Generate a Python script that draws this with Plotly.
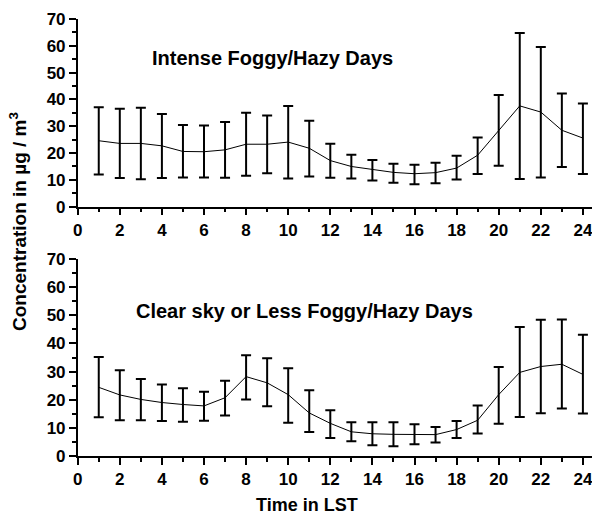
import plotly.graph_objects as go

hours = list(range(1, 25))

# Intense Foggy/Hazy Days
top_mean = [24.6, 23.6, 23.6, 22.7, 20.6, 20.5, 21.2, 23.3, 23.3, 24.1, 21.8, 17.2,
            15.0, 13.8, 12.8, 12.3, 12.7, 14.4, 19.2, 28.4, 37.6, 35.3, 28.5, 25.6]
top_upper = [37.1, 36.5, 36.9, 34.6, 30.5, 30.3, 31.6, 35.0, 34.0, 37.6, 32.1, 23.5,
             19.4, 17.4, 16.0, 15.6, 16.4, 19.0, 25.8, 41.7, 64.8, 59.6, 42.2, 38.5]
top_lower = [12.0, 10.7, 10.2, 10.7, 10.9, 10.9, 10.8, 11.5, 12.5, 10.5, 11.3, 10.8,
             10.5, 9.8, 8.9, 8.4, 8.7, 10.1, 12.2, 15.3, 10.3, 10.9, 14.8, 12.2]

# Clear sky or Less Foggy/Hazy Days
bot_mean = [24.4, 21.7, 20.1, 19.0, 18.3, 17.8, 20.7, 28.2, 26.0, 21.8, 15.3, 11.6,
            8.6, 7.9, 7.7, 7.7, 7.6, 9.4, 12.7, 21.8, 29.7, 31.8, 32.6, 29.0]
bot_upper = [35.2, 30.5, 27.4, 25.4, 24.1, 22.8, 26.7, 35.8, 34.7, 31.2, 23.4, 16.3,
             12.0, 12.0, 12.0, 11.3, 10.3, 12.4, 17.9, 31.6, 45.8, 48.4, 48.5, 43.1]
bot_lower = [13.8, 12.7, 12.7, 12.4, 12.2, 12.5, 14.4, 20.1, 17.7, 11.8, 8.5, 6.4,
             5.2, 3.8, 3.5, 4.2, 4.8, 6.4, 8.0, 11.5, 13.9, 15.2, 16.9, 15.1]

x_tick_vals = list(range(0, 25, 2))
y_tick_vals = list(range(0, 71, 10))

FONT = "Liberation Sans, Arial, sans-serif"
OFF = 8                      # page body margin
W, H = 600 - OFF, 516 - OFF  # figure size so the page fits the window


def px(x):
    return (x - OFF) / W


def py(y):
    return 1 - (y - OFF) / H


def err(mean, up, lo):
    return dict(type="data", symmetric=False,
                array=[u - m for u, m in zip(up, mean)],
                arrayminus=[m - l for m, l in zip(mean, lo)],
                color="black", thickness=2, width=5)


fig = go.Figure()
fig.add_trace(go.Scatter(x=hours, y=top_mean, mode="lines",
                         line=dict(color="black", width=1),
                         error_y=err(top_mean, top_upper, top_lower),
                         xaxis="x", yaxis="y", showlegend=False))
fig.add_trace(go.Scatter(x=hours, y=bot_mean, mode="lines",
                         line=dict(color="black", width=1),
                         error_y=err(bot_mean, bot_upper, bot_lower),
                         xaxis="x2", yaxis="y2", showlegend=False))

x0 = 77.7
xscale = 21.05
xr = [0, (600 - x0) / xscale]

tickfont = dict(family=FONT, size=17, color="black", weight="bold")

xaxis_common = dict(range=xr, tickmode="array", tickvals=x_tick_vals,
                    ticks="outside", ticklen=7, tickwidth=1.5, tickcolor="black",
                    showline=True, linecolor="black", linewidth=1.5,
                    showgrid=False, zeroline=False, automargin=False,
                    minor=dict(dtick=1, tick0=0, ticks="outside", ticklen=4,
                               tickwidth=1.5, tickcolor="black", showgrid=False),
                    tickfont=tickfont)
yaxis_common = dict(range=[0, 70], tickmode="array", tickvals=y_tick_vals,
                    ticks="outside", ticklen=7, tickwidth=1.5, tickcolor="black",
                    showline=True, linecolor="black", linewidth=1.5,
                    showgrid=False, zeroline=False, automargin=False,
                    minor=dict(dtick=5, tick0=0, ticks="outside", ticklen=4,
                               tickwidth=1.5, tickcolor="black", showgrid=False),
                    tickfont=tickfont)

fig.update_layout(
    width=W, height=H, autosize=False,
    margin=dict(l=0, r=0, t=0, b=0, pad=0),
    plot_bgcolor="white", paper_bgcolor="white",
    xaxis=dict(domain=[px(x0), 1], anchor="y", **xaxis_common),
    yaxis=dict(domain=[py(206.7), py(19)], anchor="x", **yaxis_common),
    xaxis2=dict(domain=[px(x0), 1], anchor="y2", **xaxis_common),
    yaxis2=dict(domain=[py(456), py(259)], anchor="x2", **yaxis_common),
    annotations=[
        dict(text="<b>Intense Foggy/Hazy Days</b>", xref="paper", yref="paper",
             x=px(272), y=py(58), xanchor="center", yanchor="middle",
             showarrow=False, font=dict(family=FONT, size=20, color="black")),
        dict(text="<b>Clear sky or Less Foggy/Hazy Days</b>", xref="paper", yref="paper",
             x=px(304), y=py(311), xanchor="center", yanchor="middle",
             showarrow=False, font=dict(family=FONT, size=20, color="black")),
        dict(text="<b>Concentration in µg / m<sup>3</sup></b>", xref="paper", yref="paper",
             x=px(18), y=py(222), xanchor="center", yanchor="middle",
             showarrow=False, textangle=-90,
             font=dict(family=FONT, size=19, color="black")),
        dict(text="<b>Time in LST</b>", xref="paper", yref="paper",
             x=px(307), y=py(505), xanchor="center", yanchor="middle",
             showarrow=False, font=dict(family=FONT, size=18, color="black")),
    ],
)

fig.write_html("out.html")
